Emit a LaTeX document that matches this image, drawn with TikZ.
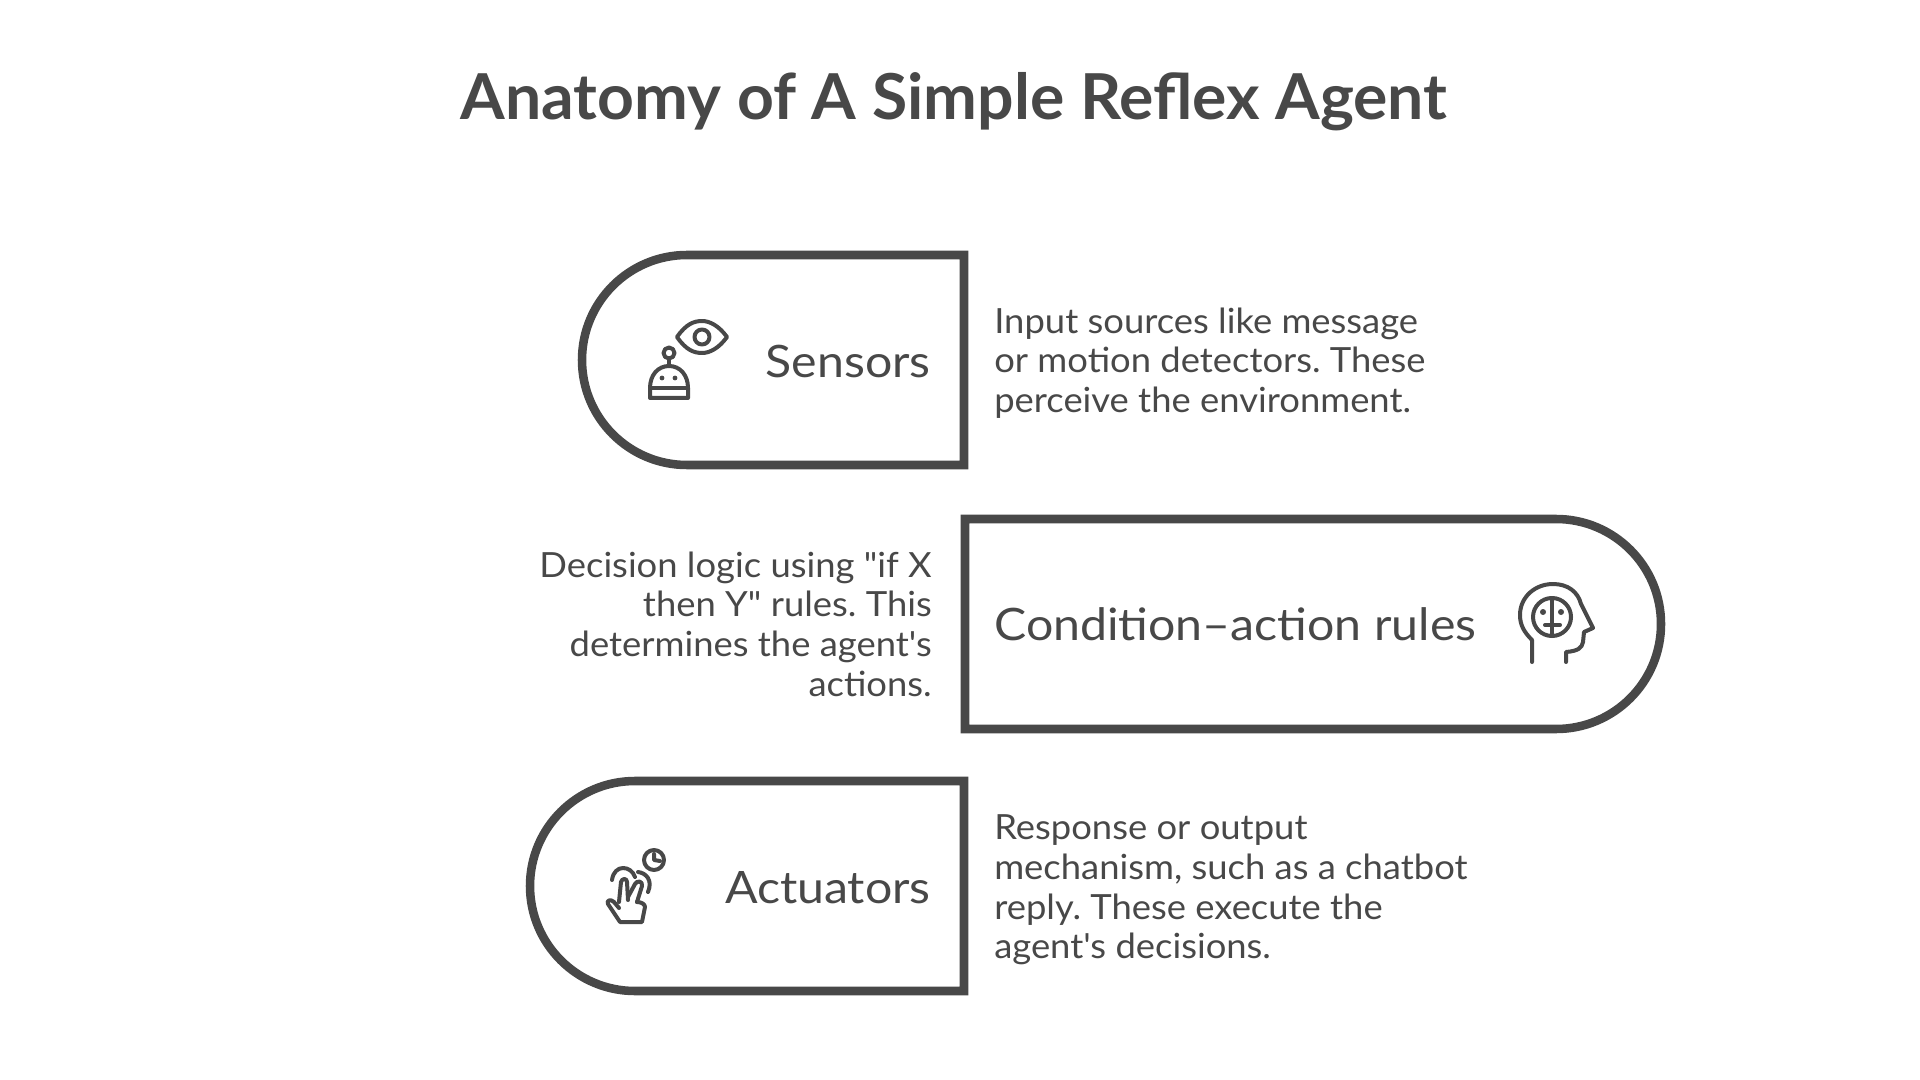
\documentclass[tikz,border=0pt]{standalone}
\usepackage{fontspec}
\newfontfamily\titlefam{Lato}[FakeStretch=1.015]
\newfontfamily\labelfam{Lato}[FakeStretch=1.08]
\newfontfamily\descfam{Lato}[FakeStretch=1.05]
\definecolor{ink}{HTML}{484848}
\begin{document}
\frenchspacing
\begin{tikzpicture}[x=0.75pt,y=-0.75pt,
  shapeline/.style={draw=ink,line width=6.4pt,line join=miter},
  iconline/.style={draw=ink,line width=3pt,line cap=round,line join=round},
  icondot/.style={fill=ink,draw=none},
  titletext/.style={text=ink,font=\titlefam\fontsize{47.5pt}{54pt}\selectfont\bfseries,inner sep=0pt},
  labeltext/.style={text=ink,font=\labelfam\fontsize{33.5pt}{38pt}\selectfont,inner sep=0pt},
  desctext/.style={text=ink,font=\descfam\fontsize{26pt}{29.7pt}\selectfont,inner sep=0pt},
]
\useasboundingbox (0,0) rectangle (1920,1080);
\fill[white] (0,0) rectangle (1920,1080);
\node[titletext] (title) at (954,102) {Anatomy of A Simple Reflex Agent};

% Sensors
\draw[shapeline] (964,255) -- (687,255) arc[start angle=270,end angle=90,radius=105] -- (964,465) -- cycle;
\node[labeltext,anchor=east] (sensors) at (931,361) {Sensors};
\node[desctext,anchor=west,align=left] (sensorsdesc) at (994,363) {Input sources like message\\or motion detectors. These\\perceive the environment.};
\draw[iconline] (677,337) .. controls (686,324) and (694,321) .. (702,321) .. controls (710,321) and (719,326) .. (727,337) .. controls (719,348) and (710,353) .. (702,353) .. controls (694,353) and (686,350) .. (677,337) -- cycle;
\draw[iconline] (702,337) circle[radius=7.5];
\draw[iconline] (669,353) circle[radius=5.5];
\draw[iconline] (669,359) -- (669,366);
\draw[iconline] (650,398) -- (650,388) .. controls (650,375) and (658,366) .. (669,366) .. controls (680,366) and (688,375) .. (688,388) -- (688,398) -- cycle;
\draw[iconline] (650,388) -- (688,388);
\fill[icondot] (662,378) circle[radius=2.4];
\fill[icondot] (675,378) circle[radius=2.4];

% Condition-action rules
\draw[shapeline] (965,519) -- (1556,519) arc[start angle=-90,end angle=90,radius=105] -- (965,729) -- cycle;
\node[labeltext,anchor=west] (rules) at (994,624) {Condition–action rules};
\node[desctext,anchor=east,align=right] (rulesdesc) at (932,624) {Decision logic using "if X\\then Y" rules. This\\determines the agent's\\actions.};
\draw[iconline] (1532,662) -- (1532,640) .. controls (1524,632) and (1520,625) .. (1520,615) .. controls (1520,597) and (1535,584) .. (1553,584) .. controls (1568,584) and (1578,592) .. (1581,604) -- (1593,628) -- (1584,632) -- (1583,642) .. controls (1582,648) and (1578,651) .. (1566,652) -- (1566,662);
\draw[iconline] (1552,617) circle[radius=19];
\draw[iconline] (1552,598) -- (1552,636);
\draw[iconline] (1545,625) -- (1560,625);
\fill[icondot] (1543,612) circle[radius=3];
\fill[icondot] (1561,612) circle[radius=3];

% Actuators
\draw[shapeline] (964,781) -- (635,781) arc[start angle=270,end angle=90,radius=105] -- (964,991) -- cycle;
\node[labeltext,anchor=east] (actuators) at (931,888) {Actuators};
\node[desctext,anchor=west,align=left] (actuatorsdesc) at (994,890) {Response or output\\mechanism, such as a chatbot\\reply. These execute the\\agent's decisions.};
\draw[iconline] (654,860) circle[radius=10];
\draw[iconline] (654,854) -- (654,860) -- (660,861);
\draw[iconline] (612,880) .. controls (613,872) and (618,868) .. (623,868) .. controls (628,868) and (633,871) .. (635,877);
\draw[iconline] (638,872) .. controls (646,873) and (653,880) .. (648,892);
\draw[iconline] (619,902) -- (621,882) .. controls (622,878) and (627,878) .. (627,882) -- (628,900);
\draw[iconline] (628,897) -- (635,884) .. controls (637,880) and (643,881) .. (642,886) -- (637,902);
\draw[iconline] (619,908) -- (614,902) .. controls (611,899) and (606,900) .. (608,904) -- (620,922) -- (642,922) -- (645,907) .. controls (645,904) and (641,902) .. (637,902);
\end{tikzpicture}
\end{document}
